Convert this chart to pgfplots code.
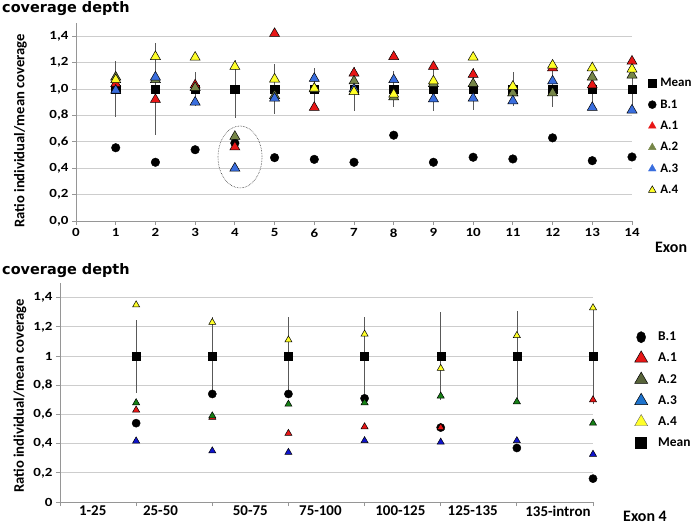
\documentclass[border=0pt]{standalone}
\usepackage{pgfplots}
\pgfplotsset{compat=1.18}
\usepackage{fontspec}
\setmainfont{Carlito}
\newfontfamily\widefont[FakeStretch=1.2]{Carlito}
\newfontfamily\titlefont{DejaVu Sans}

\definecolor{axgray}{RGB}{150,150,150}
\definecolor{grdgray}{RGB}{205,205,205}
\definecolor{ered}{RGB}{232,22,22}
\definecolor{eolive}{RGB}{118,134,72}
\definecolor{eblue}{RGB}{58,110,222}
\definecolor{eyellow}{RGB}{255,255,40}
\definecolor{bgreen}{RGB}{22,128,22}
\definecolor{bblue}{RGB}{15,20,205}
\definecolor{lolive}{RGB}{88,100,58}
\definecolor{lblue}{RGB}{30,115,205}

% exon-level data (top)
\pgfplotstableread{
x  m    e    b1   a1   a2   a3   a4
1  1.0  0.21 0.555 1.04 1.09 0.99 1.07
2  1.0  0.35 0.445 0.92 1.07 1.09 1.245
3  1.0  0.13 0.54 1.03 1.01 0.90 1.24
4  1.0  0.22 0.59 0.56 0.64 0.40 1.17
5  1.0  0.19 0.48 1.42 0.95 0.93 1.075
6  1.0  0.16 0.467 0.86 1.00 1.08 1.005
7  1.0  0.17 0.445 1.12 1.06 1.00 0.98
8  1.0  0.14 0.65 1.245 0.94 1.07 0.96
9  1.0  0.17 0.445 1.17 1.04 0.925 1.06
10 1.0  0.16 0.483 1.11 1.04 0.93 1.24
11 1.0  0.13 0.47 0.97 0.97 0.91 1.02
12 1.0  0.14 0.63 1.16 0.97 1.06 1.18
13 1.0  0.13 0.457 1.03 1.09 0.86 1.16
14 1.0  0.13 0.485 1.21 1.105 0.84 1.15
}\exons

% exon 4 sub-regions (bottom)
\pgfplotstableread{
x  m    e    b1   a2   a3   a4
1  1.0  0.25 0.54 0.68 0.418 1.35
2  1.0  0.27 0.74 0.59 0.35 1.23
3  1.0  0.27 0.74 0.67 0.34 1.11
4  1.0  0.27 0.71 0.68 0.42 1.15
5  1.0  0.30 0.51 0.726 0.41 0.915
6  1.0  0.31 0.37 0.687 0.42 1.14
7  1.0  0.33 0.16 0.54 0.327 1.33
}\exfour
\pgfplotstableread{
x  a1
1  0.63
2  0.58
3  0.47
4  0.515
5  0.51
7  0.70
}\exfourred

\pgfplotsset{
  chartbase/.style={
    scale only axis,
    axis x line*=bottom, axis y line*=left,
    axis line style={draw=axgray, line width=0.8pt},
    tick align=outside, major tick length=4bp,
    tick style={draw=axgray, line width=0.8pt},
    ymajorgrids, grid style={draw=grdgray, line width=0.8pt},
    ymin=0, ymax=1.5,
    ytick={0,0.2,0.4,0.6,0.8,1.0,1.2,1.4},
    /pgf/number format/assume math mode=true,
    tick label style={font=\widefont\bfseries\fontsize{12.5}{12.5}\selectfont},
    ylabel={Ratio individual/mean coverage},
    ylabel style={font=\bfseries\fontsize{14.7}{14.7}\selectfont, anchor=center},
    legend cell align=left,
    clip=false,
  },
  tri/.style={only marks, mark=triangle*, mark size=#1,
    mark options={draw=black, line width=0.5pt}},
}

\begin{document}
\begin{tikzpicture}
\useasboundingbox (0bp,0bp) rectangle (695bp,-524bp);

\node[anchor=west, inner sep=0pt, font=\titlefont\bfseries\fontsize{14.5}{14.5}\selectfont]
  at (2bp,-9bp) {coverage depth};
\node[anchor=west, inner sep=0pt, font=\titlefont\bfseries\fontsize{14.5}{14.5}\selectfont]
  at (2bp,-271bp) {coverage depth};

% ---------- top: per exon ----------
\begin{axis}[chartbase,
  at={(76bp,-221bp)}, anchor=south west,
  width=556bp, height=198bp,
  xmin=0, xmax=14, xtick={0,...,14},
  y tick label style={/pgf/number format/.cd, fixed, fixed zerofill, precision=1, use comma},
  ylabel style={at={(axis description cs:-0.1,0.455)}},
  legend style={at={(axis description cs:1.028,0.722)}, anchor=north west,
    draw=none, fill=none, inner sep=0pt, column sep=3.5bp, row sep=11.4bp,
    nodes={inner sep=0pt, text height=7bp, text depth=0pt,
      font=\bfseries\fontsize{13}{13}\selectfont}},
  legend image code/.code={\path[draw=none, fill=none] (0bp,-5bp) rectangle (9bp,5bp);
    \draw[#1] plot coordinates {(4.5bp,0bp)};},
]
\addplot[forget plot, only marks, mark=square*, mark size=4.2bp, black,
  error bars/.cd, y dir=both, y explicit,
  error bar style={draw=black!65, line width=0.7pt}, error mark=none]
  table[x=x, y=m, y error=e] {\exons};
\addplot[forget plot, only marks, mark=*, mark size=4.3bp, black] table[x=x, y=b1] {\exons};
\addplot[forget plot, tri=5.8bp, fill=ered] table[x=x, y=a1] {\exons};
\addplot[forget plot, tri=5.8bp, fill=eolive] table[x=x, y=a2] {\exons};
\addplot[forget plot, tri=5.8bp, fill=eblue] table[x=x, y=a3] {\exons};
\addplot[forget plot, tri=5.8bp, fill=eyellow] table[x=x, y=a4] {\exons};

\draw[densely dotted, line width=0.6pt, black!80] (axis cs:4.13,0.485) ellipse [x radius=22bp, y radius=31bp];

\addlegendimage{only marks, mark=square*, mark size=3.6bp, black}
\addlegendentry{Mean}
\addlegendimage{only marks, mark=*, mark size=4bp, black}
\addlegendentry{B.1}
\addlegendimage{only marks, mark=triangle*, mark size=4.4bp, draw=ered, fill=ered}
\addlegendentry{A.1}
\addlegendimage{only marks, mark=triangle*, mark size=4.4bp, draw=eolive, fill=eolive}
\addlegendentry{A.2}
\addlegendimage{only marks, mark=triangle*, mark size=4.4bp, draw=eblue, fill=eblue}
\addlegendentry{A.3}
\addlegendimage{tri=4.4bp, fill=eyellow}
\addlegendentry{A.4}
\end{axis}
\node[anchor=west, inner sep=0pt, font=\bfseries\fontsize{16}{16}\selectfont]
  at (655bp,-247bp) {Exon};

% ---------- bottom: exon 4 ----------
\begin{axis}[chartbase,
  at={(60bp,-502bp)}, anchor=south west,
  width=533bp, height=219bp,
  xmin=0, xmax=7, xtick={0,...,7}, xticklabels={},
  extra x ticks={0.43,1.32,2.50,3.42,4.47,5.42,6.54},
  extra x tick labels={1-25,25-50,50-75,75-100,100-125,125-135,135-intron},
  extra x tick style={major tick length=0pt, grid=none,
    tick label style={font=\bfseries\fontsize{15}{15}\selectfont}},
  y tick label style={/pgf/number format/.cd, fixed, precision=1, use comma},
  ylabel style={at={(axis description cs:-0.075,0.484)}},
  legend style={at={(axis description cs:1.075,0.790)}, anchor=north west,
    draw=none, fill=none, inner sep=0pt, column sep=9bp, row sep=5.2bp,
    nodes={inner sep=0pt, text height=7bp, text depth=0pt,
      font=\bfseries\fontsize{13.5}{13.5}\selectfont}},
  legend image code/.code={\path[draw=none, fill=none] (0bp,-8bp) rectangle (16bp,8bp);
    \draw[#1] plot coordinates {(8bp,0bp)};},
]
\addplot[forget plot, only marks, mark=square*, mark size=4bp, black,
  error bars/.cd, y dir=both, y explicit,
  error bar style={draw=black!65, line width=0.7pt}, error mark=none]
  table[x=x, y=m, y error=e] {\exfour};
\addplot[forget plot, only marks, mark=*, mark size=4.1bp, black] table[x=x, y=b1] {\exfour};
\addplot[forget plot, tri=4.1bp, fill=ered] table[x=x, y=a1] {\exfourred};
\addplot[forget plot, tri=4.1bp, fill=bgreen] table[x=x, y=a2] {\exfour};
\addplot[forget plot, tri=4.1bp, fill=bblue] table[x=x, y=a3] {\exfour};
\addplot[forget plot, tri=4.1bp, fill=eyellow] table[x=x, y=a4] {\exfour};

\addlegendimage{only marks, mark=*, mark size=4.5bp, black, mark options={yscale=1.25}}
\addlegendentry{B.1}
\addlegendimage{tri=7.5bp, fill=ered}
\addlegendentry{A.1}
\addlegendimage{tri=7.5bp, fill=lolive}
\addlegendentry{A.2}
\addlegendimage{tri=7.5bp, fill=lblue}
\addlegendentry{A.3}
\addlegendimage{tri=7.5bp, fill=eyellow, mark options={draw=black!60}}
\addlegendentry{A.4}
\addlegendimage{only marks, mark=square*, mark size=5.5bp, black}
\addlegendentry{Mean}
\end{axis}
\node[anchor=center, inner sep=0pt, font=\bfseries\fontsize{16}{16}\selectfont]
  at (645bp,-516bp) {Exon 4};
\end{tikzpicture}
\end{document}
